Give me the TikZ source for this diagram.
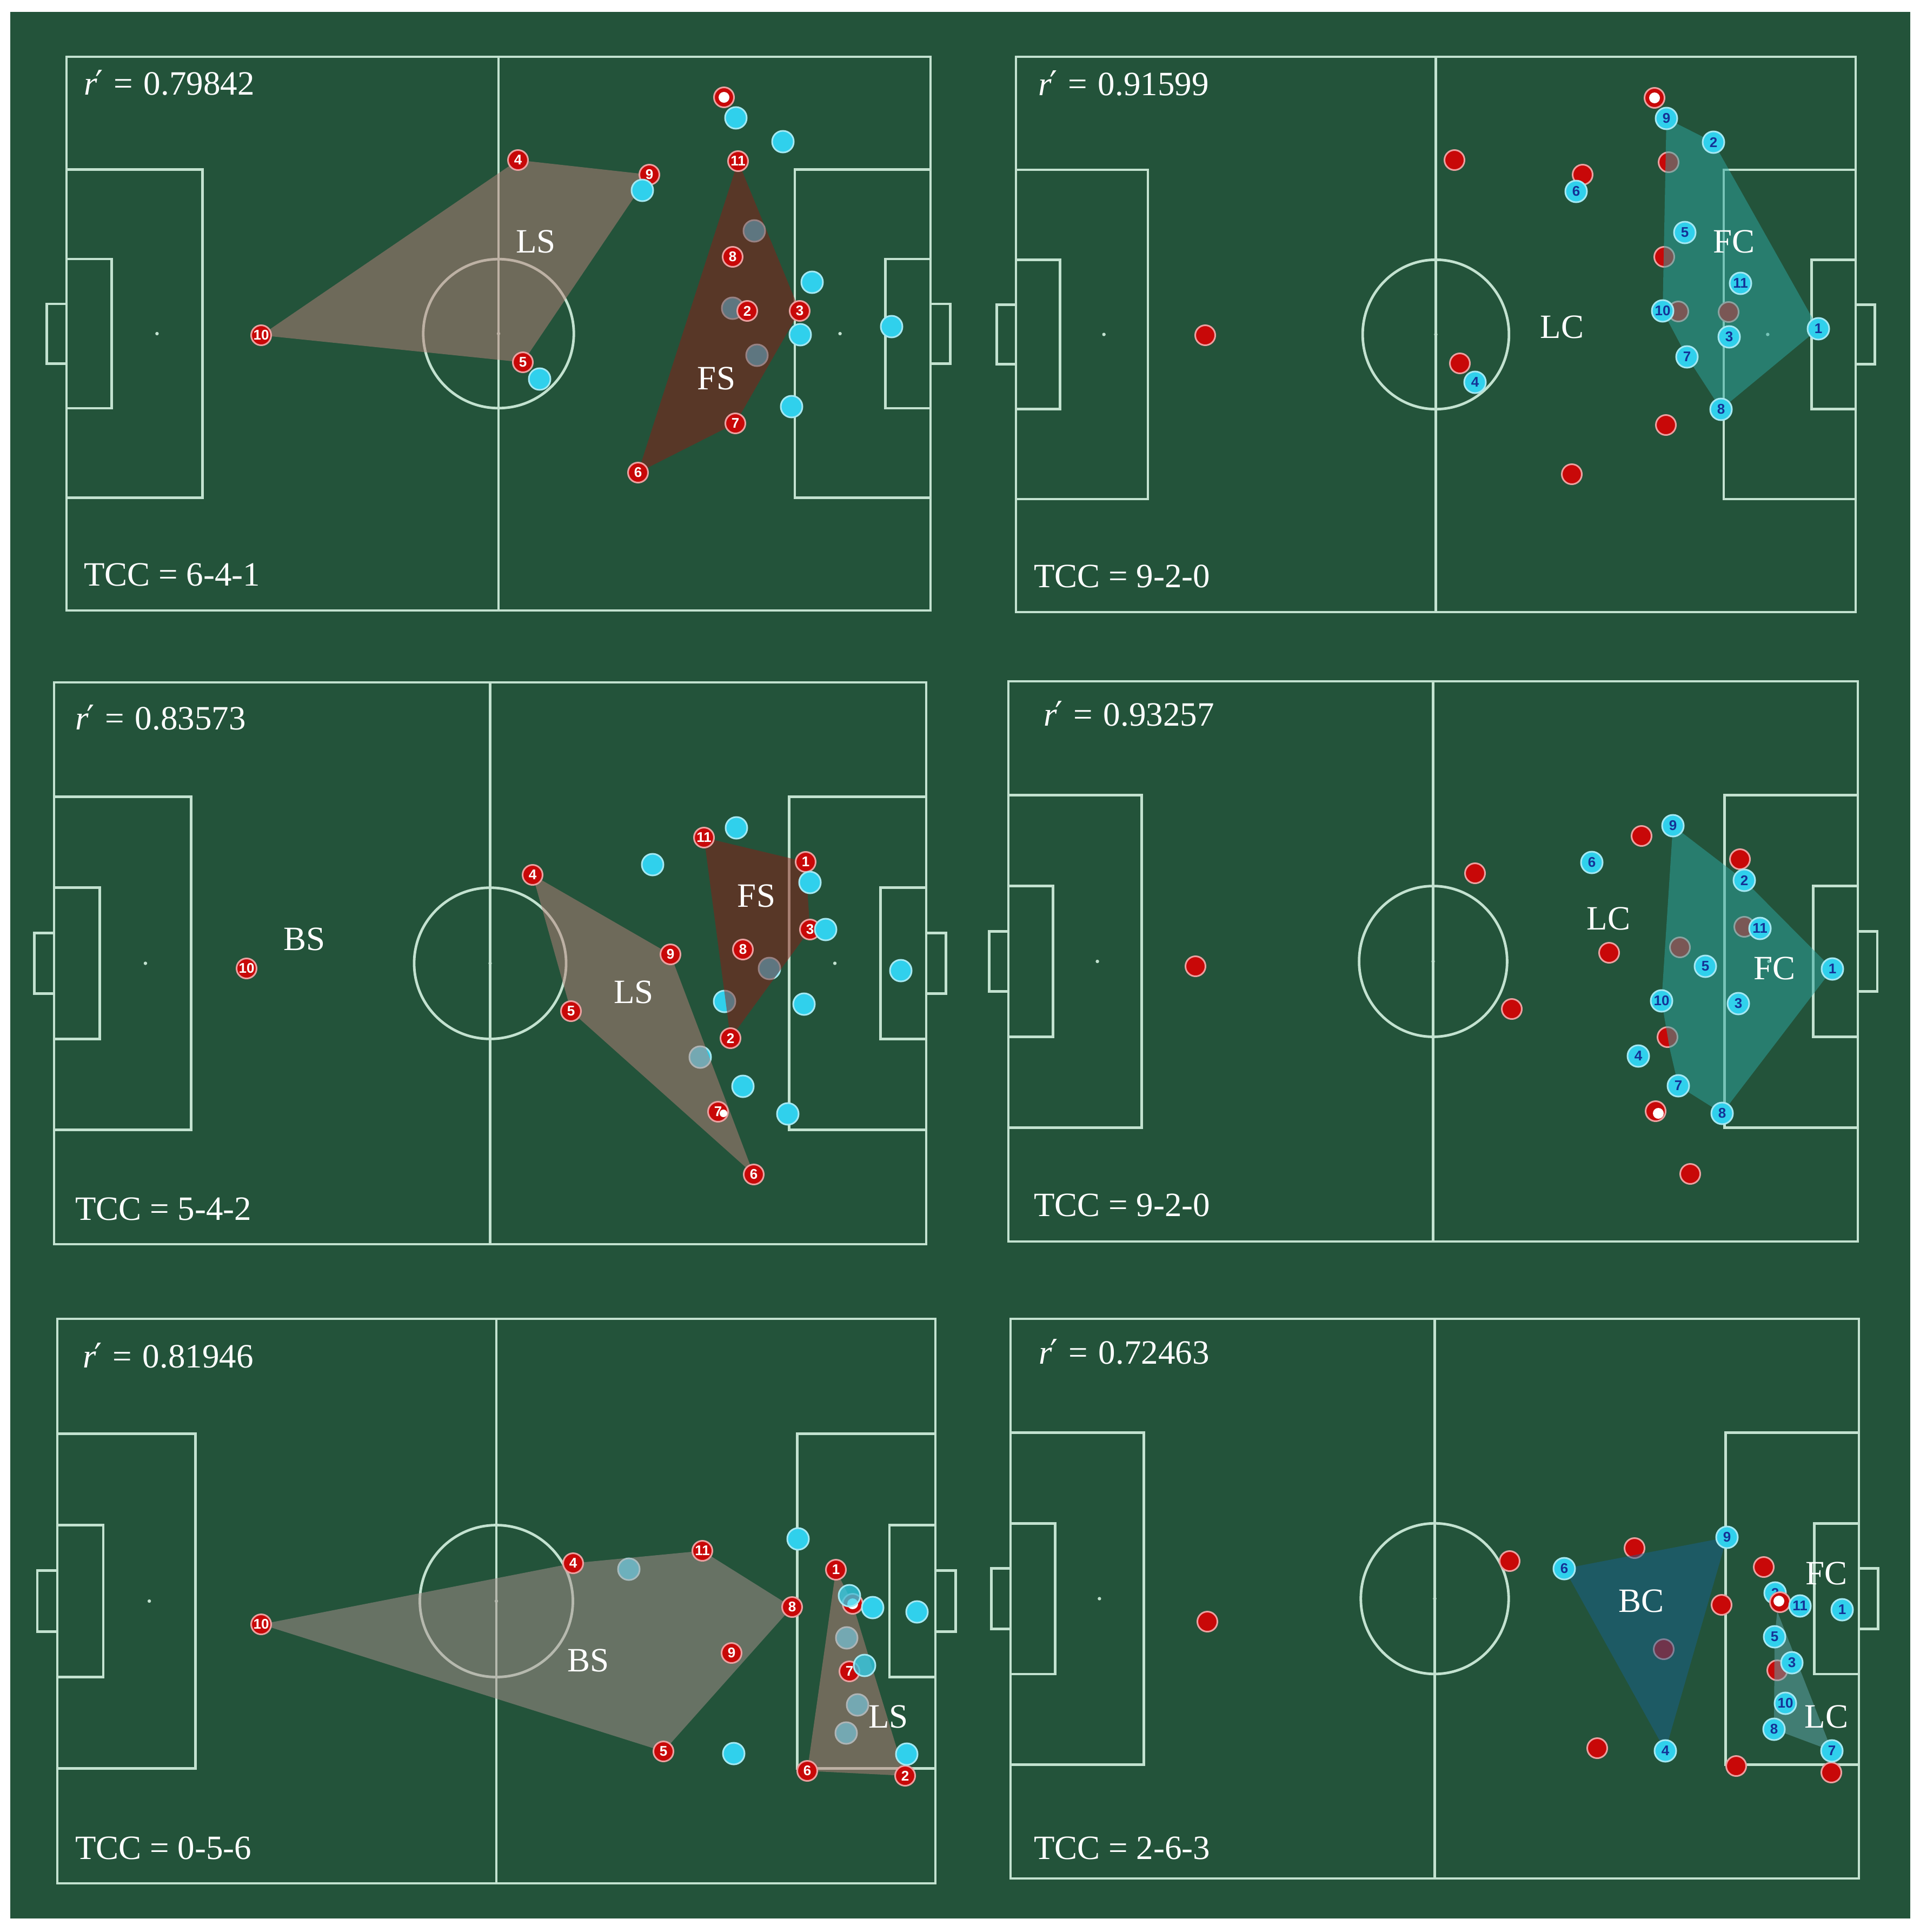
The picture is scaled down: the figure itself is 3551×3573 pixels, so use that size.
\documentclass[tikz,border=0pt]{standalone}
\usepackage{fontspec}
\setmainfont{Liberation Serif}
\setsansfont{Liberation Sans}
\newfontfamily\primefont{DejaVu Serif}
\definecolor{pitchgreen}{RGB}{35,83,58}
\definecolor{linecol}{RGB}{195,226,208}
\definecolor{redfill}{RGB}{200,8,8}
\definecolor{redrim}{RGB}{235,160,160}
\definecolor{cyfill}{RGB}{48,208,236}
\definecolor{cyrim}{RGB}{165,232,242}
\definecolor{numblue}{RGB}{20,50,150}
\definecolor{lscol}{RGB}{185,130,122}
\definecolor{fscol}{RGB}{141,29,22}
\definecolor{fccol}{RGB}{45,167,162}
\definecolor{bscol}{RGB}{171,145,142}
\definecolor{bccol}{RGB}{25,97,142}
\definecolor{lccol}{RGB}{95,167,172}
\tikzset{
  pline/.style={draw=linecol, line width=2.4pt},
  redp/.style={circle, fill=redfill, draw=redrim, line width=1.5pt, minimum size=18.5pt, inner sep=0pt, text=white, font=\sffamily\bfseries\fontsize{13}{13}\selectfont},
  cyp/.style={circle, fill=cyfill, draw=cyrim, line width=1.5pt, minimum size=20pt, inner sep=0pt, text=numblue, font=\sffamily\bfseries\fontsize{13}{13}\selectfont},
  zone/.style={fill opacity=0.5},
  lbl/.style={text=white, inner sep=0pt, font=\fontsize{31.5}{37}\selectfont},
  info/.style={text=white, inner sep=0pt, anchor=base west, font=\fontsize{31.5}{37}\selectfont},
}
\newcommand\rprime{\textit{r}\kern-0.05em{\primefont ′}\hspace{0.3em}=\hspace{0.32em}}
\newcommand\drawpitchfield[4]{%
  \pgfmathsetmacro\pfxa{#1}\pgfmathsetmacro\pfya{#2}%
  \pgfmathsetmacro\pfxb{#3}\pgfmathsetmacro\pfyb{#4}%
  \pgfmathsetmacro\pfL{\pfxb-\pfxa}\pgfmathsetmacro\pfW{\pfyb-\pfya}%
  \pgfmathsetmacro\pfxm{(\pfxa+\pfxb)/2}\pgfmathsetmacro\pfym{(\pfya+\pfyb)/2}%
  \pgfmathsetmacro\pfpd{16.5/105*\pfL}\pgfmathsetmacro\pfpw{20.16/68*\pfW}%
  \pgfmathsetmacro\pfgd{5.5/105*\pfL}\pgfmathsetmacro\pfgw{9.16/68*\pfW}%
  \pgfmathsetmacro\pfnd{2.4/105*\pfL}\pgfmathsetmacro\pfnw{3.66/68*\pfW}%
  \pgfmathsetmacro\pfsp{11/105*\pfL}%
  \pgfmathsetmacro\pfcrx{9.15/105*\pfL}\pgfmathsetmacro\pfcry{9.15/68*\pfW}%
  \draw[pline] (\pfxa,\pfya) rectangle (\pfxb,\pfyb);
  \draw[pline] (\pfxm,\pfya) -- (\pfxm,\pfyb);
  \draw[pline] (\pfxm,\pfym) ellipse [x radius=\pfcrx, y radius=\pfcry];
  \fill[linecol] (\pfxm,\pfym) circle [radius=1.6pt];
  \draw[pline] (\pfxa,\pfym-\pfpw) rectangle (\pfxa+\pfpd,\pfym+\pfpw);
  \draw[pline] (\pfxa,\pfym-\pfgw) rectangle (\pfxa+\pfgd,\pfym+\pfgw);
  \draw[pline] (\pfxa-\pfnd,\pfym-\pfnw) rectangle (\pfxa,\pfym+\pfnw);
  \fill[linecol] (\pfxa+\pfsp,\pfym) circle [radius=1.6pt];
  \draw[pline] (\pfxb,\pfym-\pfpw) rectangle (\pfxb-\pfpd,\pfym+\pfpw);
  \draw[pline] (\pfxb,\pfym-\pfgw) rectangle (\pfxb-\pfgd,\pfym+\pfgw);
  \draw[pline] (\pfxb+\pfnd,\pfym-\pfnw) rectangle (\pfxb,\pfym+\pfnw);
  \fill[linecol] (\pfxb-\pfsp,\pfym) circle [radius=1.6pt];
}
\begin{document}
\begin{tikzpicture}[x=0.5pt,y=-0.5pt]
\useasboundingbox (0,0) rectangle (3551,3573);
\fill[white] (0,0) rectangle (3551,3573);
\fill[pitchgreen] (19,22) rectangle (3533,3548);

% ================= Panel A (top left) =================
\drawpitchfield{123}{105}{1721}{1129}
\coordinate (a10) at (483,620);  \coordinate (a4) at (958,296);
\coordinate (a9) at (1201,323);  \coordinate (a11) at (1365,298);
\coordinate (a8) at (1355,475);  \coordinate (a2) at (1382,575);
\coordinate (a3) at (1479,575);  \coordinate (a5) at (967,670);
\coordinate (a7) at (1360,783);  \coordinate (a6) at (1180,874);
\coordinate (aball) at (1339,180);
\node[cyp] (ao1) at (1361,218) {};  \node[cyp] (ao2) at (1448,262) {};
\node[cyp] (ao4) at (1395,427) {};
\node[cyp] (ao5) at (1502,522) {};  \node[cyp] (ao6) at (1355,570) {};
\node[cyp] (ao7) at (1480,619) {};  \node[cyp] (ao8) at (1649,604) {};
\node[cyp] (ao9) at (1400,657) {};  \node[cyp] (ao10) at (998,701) {};
\node[cyp] (ao11) at (1464,752) {};
\fill[lscol, zone] (a10) -- (a4) -- (a9) -- (a5) -- cycle;
\fill[fscol, zone] (a11) -- (a3) -- (a7) -- (a6) -- cycle;
\node[redp] (A10) at (a10) {10}; \node[redp] (A4) at (a4) {4};
\node[redp] (A9) at (a9) {9};    \node[redp] (A11) at (a11) {11};
\node[redp] (A8) at (a8) {8};    \node[redp] (A2) at (a2) {2};
\node[redp] (A3) at (a3) {3};    \node[redp] (A5) at (a5) {5};
\node[redp] (A7) at (a7) {7};    \node[redp] (A6) at (a6) {6};
\node[redp] (Aball) at (aball) {};
\fill[white] (Aball.center) circle [radius=5pt];
\node[cyp] (ao3) at (1188,352) {};
\node[lbl] (Als) at (991,447) {LS};
\node[lbl] (Afs) at (1325,700) {FS};
\node[info] (Ar) at (155,175) {\rprime 0.79842};
\node[info] (Atcc) at (155,1083) {TCC = 6-4-1};

% ================= Panel B (top right) =================
\drawpitchfield{1879}{105}{3432}{1132}
\coordinate (b9) at (3082,219);  \coordinate (b2) at (3169,263);
\coordinate (b6) at (2915,354);  \coordinate (b5) at (3116,430);
\coordinate (b11) at (3219,524); \coordinate (b10) at (3075,575);
\coordinate (b3) at (3198,623);  \coordinate (b1) at (3363,608);
\coordinate (b7) at (3120,660);  \coordinate (b4) at (2728,707);
\coordinate (b8) at (3183,757);
\node[redp] (bo1) at (3060,181) {};
\fill[white] (bo1.center) circle [radius=5pt];
\node[redp] (bo2) at (2690,296) {};  \node[redp] (bo3) at (2927,323) {};
\node[redp] (bo4) at (3086,300) {};  \node[redp] (bo5) at (3078,475) {};
\node[redp] (bo6) at (3104,576) {};  \node[redp] (bo7) at (3197,577) {};
\node[redp] (bo8) at (2700,672) {};  \node[redp] (bo9) at (3081,786) {};
\node[redp] (bo10) at (2907,877) {}; \node[redp] (bo11) at (2229,620) {};
\fill[fccol, zone] (b9) -- (b2) -- (b1) -- (b8) -- (b7) -- (b10) -- cycle;
\node[cyp] (B9) at (b9) {9};   \node[cyp] (B2) at (b2) {2};
\node[cyp] (B6) at (b6) {6};   \node[cyp] (B5) at (b5) {5};
\node[cyp] (B11) at (b11) {11}; \node[cyp] (B10) at (b10) {10};
\node[cyp] (B3) at (b3) {3};   \node[cyp] (B1) at (b1) {1};
\node[cyp] (B7) at (b7) {7};   \node[cyp] (B4) at (b4) {4};
\node[cyp] (B8) at (b8) {8};
\node[lbl] (Bfc) at (3207,447) {FC};
\node[lbl] (Blc) at (2889,605) {LC};
\node[info] (Br) at (1920,176) {\rprime 0.91599};
\node[info] (Btcc) at (1912,1086) {TCC = 9-2-0};

% ================= Panel C (middle left) =================
\drawpitchfield{100}{1262}{1713}{2301}
\coordinate (c11) at (1302,1549); \coordinate (c4) at (985,1618);
\coordinate (c1) at (1490,1594);  \coordinate (c3) at (1498,1719);
\coordinate (c9) at (1240,1765);  \coordinate (c8) at (1374,1756);
\coordinate (c5) at (1056,1870);  \coordinate (c2) at (1351,1920);
\coordinate (c7) at (1328,2056);  \coordinate (c6) at (1394,2172);
\coordinate (c10) at (456,1791);
\node[cyp] (co1) at (1362,1531) {};  \node[cyp] (co2) at (1207,1599) {};
\node[cyp] (co5) at (1423,1791) {};  \node[cyp] (co6) at (1666,1795) {};
\node[cyp] (co7) at (1340,1852) {};  \node[cyp] (co8) at (1487,1857) {};
\node[cyp] (co9) at (1295,1955) {};  \node[cyp] (co10) at (1374,2009) {};
\node[cyp] (co11) at (1457,2060) {};
\fill[lscol, zone] (c4) -- (c9) -- (c6) -- (c5) -- cycle;
\fill[fscol, zone] (c11) -- (c1) -- (c3) -- (c2) -- cycle;
\node[redp] (C11) at (c11) {11}; \node[redp] (C4) at (c4) {4};
\node[redp] (C1) at (c1) {1};    \node[redp] (C3) at (c3) {3};
\node[redp] (C9) at (c9) {9};    \node[redp] (C8) at (c8) {8};
\node[redp] (C5) at (c5) {5};    \node[redp] (C2) at (c2) {2};
\node[redp] (C7) at (c7) {7};    \node[redp] (C6) at (c6) {6};
\node[redp] (C10) at (c10) {10};
\fill[white] (C7.center) ++(10,3) circle [radius=3.5pt];
\node[cyp] (co3) at (1498,1632) {};  \node[cyp] (co4) at (1527,1719) {};
\node[lbl] (Cfs) at (1399,1657) {FS};
\node[lbl] (Cls) at (1172,1835) {LS};
\node[lbl] (Cbs) at (563,1737) {BS};
\node[info] (Cr) at (139,1349) {\rprime 0.83573};
\node[info] (Ctcc) at (139,2256) {TCC = 5-4-2};

% ================= Panel D (middle right) =================
\drawpitchfield{1865}{1260}{3436}{2296}
\coordinate (d9) at (3094,1527);  \coordinate (d6) at (2944,1595);
\coordinate (d2) at (3226,1628);  \coordinate (d11) at (3255,1717);
\coordinate (d5) at (3154,1787);  \coordinate (d1) at (3389,1792);
\coordinate (d10) at (3073,1851); \coordinate (d3) at (3215,1856);
\coordinate (d4) at (3030,1953);  \coordinate (d7) at (3104,2008);
\coordinate (d8) at (3185,2059);
\node[redp] (do1) at (3036,1546) {};  \node[redp] (do2) at (2728,1615) {};
\node[redp] (do3) at (3218,1589) {};  \node[redp] (do4) at (3226,1714) {};
\node[redp] (do5) at (3107,1752) {};  \node[redp] (do6) at (2976,1762) {};
\node[redp] (do7) at (2796,1866) {};  \node[redp] (do8) at (3084,1918) {};
\node[redp] (do9) at (3062,2055) {};
\fill[white] (do9.center) ++(5,4) circle [radius=5pt];
\node[redp] (do10) at (3126,2171) {}; \node[redp] (do11) at (2211,1787) {};
\fill[fccol, zone] (d9) -- (d2) -- (d1) -- (d8) -- (d7) -- (3088,1939) -- (d10) -- cycle;
\node[cyp] (D9) at (d9) {9};   \node[cyp] (D6) at (d6) {6};
\node[cyp] (D2) at (d2) {2};   \node[cyp] (D11) at (d11) {11};
\node[cyp] (D5) at (d5) {5};   \node[cyp] (D1) at (d1) {1};
\node[cyp] (D10) at (d10) {10}; \node[cyp] (D3) at (d3) {3};
\node[cyp] (D4) at (d4) {4};   \node[cyp] (D7) at (d7) {7};
\node[cyp] (D8) at (d8) {8};
\node[lbl] (Dlc) at (2975,1699) {LC};
\node[lbl] (Dfc) at (3282,1791) {FC};
\node[info] (Dr) at (1930,1342) {\rprime 0.93257};
\node[info] (Dtcc) at (1912,2249) {TCC = 9-2-0};

% ================= Panel E (bottom left) =================
\drawpitchfield{106}{2439}{1730}{3483}
\coordinate (e4) at (1060,2891);  \coordinate (e11) at (1299,2868);
\coordinate (e1) at (1546,2903);  \coordinate (e8) at (1465,2972);
\coordinate (eball) at (1577,2966); \coordinate (e9) at (1353,3057);
\coordinate (e7) at (1571,3091);  \coordinate (e5) at (1227,3239);
\coordinate (e6) at (1493,3275);  \coordinate (e2) at (1674,3284);
\coordinate (e10) at (483,3004);
\node[cyp] (eo1) at (1476,2846) {};  \node[cyp] (eo2) at (1163,2902) {};
\node[cyp] (eo6) at (1566,3029) {};
\node[cyp] (eo8) at (1586,3153) {};
\node[cyp] (eo9) at (1565,3205) {};  \node[cyp] (eo10) at (1357,3243) {};
\fill[bscol, zone] (e10) -- (e4) -- (e11) -- (e8) -- (e5) -- cycle;
\fill[lscol, zone] (e1) -- (eball) -- (e2) -- (e6) -- cycle;
\node[redp] (E4) at (e4) {4};    \node[redp] (E11) at (e11) {11};
\node[redp] (E1) at (e1) {1};    \node[redp] (E8) at (e8) {8};
\node[redp] (Eball) at (eball) {};
\fill[white] (Eball.center) circle [radius=5pt];
\node[redp] (E9) at (e9) {9};    \node[redp] (E7) at (e7) {7};
\node[redp] (E5) at (e5) {5};    \node[redp] (E6) at (e6) {6};
\node[redp] (E2) at (e2) {2};    \node[redp] (E10) at (e10) {10};
\node[cyp, fill opacity=0.75] (eo3) at (1571,2951) {};
\node[cyp] (eo4) at (1614,2973) {};
\node[cyp] (eo5) at (1696,2981) {};
\node[cyp, fill opacity=0.75] (eo7) at (1599,3080) {};
\node[cyp] (eo11) at (1677,3244) {};
\node[lbl] (Ebs) at (1088,3071) {BS};
\node[lbl] (Els) at (1643,3175) {LS};
\node[info] (Er) at (153,2529) {\rprime 0.81946};
\node[info] (Etcc) at (139,3438) {TCC = 0-5-6};

% ================= Panel F (bottom right) =================
\drawpitchfield{1869}{2439}{3438}{3474}
\coordinate (f9) at (3194,2843);  \coordinate (f6) at (2893,2901);
\coordinate (f2) at (3283,2946);  \coordinate (f11) at (3329,2970);
\coordinate (f1) at (3407,2977);  \coordinate (f5) at (3282,3027);
\coordinate (f3) at (3314,3075);  \coordinate (f10) at (3302,3150);
\coordinate (f8) at (3281,3198);  \coordinate (f4) at (3080,3238);
\coordinate (f7) at (3388,3238);  \coordinate (ftop) at (3287,2980);
\node[redp] (fo1) at (2792,2887) {};  \node[redp] (fo2) at (3023,2863) {};
\node[redp] (fo3) at (3262,2898) {};  \node[redp] (fo4) at (3184,2968) {};
\node[redp] (fo6) at (3077,3050) {};  \node[redp] (fo7) at (3287,3089) {};
\node[redp] (fo8) at (2954,3233) {};  \node[redp] (fo9) at (3211,3266) {};
\node[redp] (fo10) at (3387,3278) {}; \node[redp] (fo11) at (2233,2999) {};
\fill[bccol, zone] (f6) -- (f9) -- (f4) -- cycle;
\fill[lccol, zone] (ftop) -- (f7) -- (f8) -- (f5) -- cycle;
\node[cyp] (F9) at (f9) {9};   \node[cyp] (F6) at (f6) {6};
\node[cyp] (F2) at (f2) {2};
\node[redp] (fo5) at (3292,2963) {};
\fill[white] (fo5.center) ++(-2,-2) circle [radius=5pt];
\node[cyp] (F11) at (f11) {11};
\node[cyp] (F1) at (f1) {1};   \node[cyp] (F5) at (f5) {5};
\node[cyp] (F3) at (f3) {3};   \node[cyp] (F10) at (f10) {10};
\node[cyp] (F8) at (f8) {8};   \node[cyp] (F4) at (f4) {4};
\node[cyp] (F7) at (f7) {7};
\node[lbl] (Fbc) at (3035,2961) {BC};
\node[lbl] (Ffc) at (3378,2910) {FC};
\node[lbl] (Flc) at (3378,3175) {LC};
\node[info] (Fr) at (1921,2522) {\rprime 0.72463};
\node[info] (Ftcc) at (1912,3438) {TCC = 2-6-3};
\end{tikzpicture}
\end{document}
